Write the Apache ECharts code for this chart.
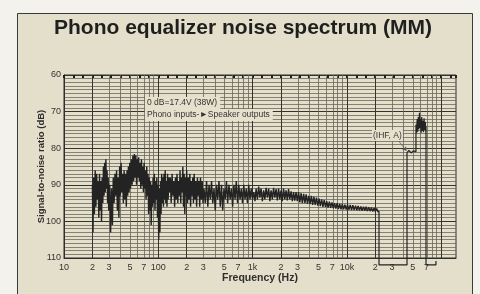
<!DOCTYPE html>
<html>
<head>
<meta charset="utf-8">
<script src="https://cdn.jsdelivr.net/npm/echarts@6/dist/echarts.min.js"></script>
<style>
html,body{margin:0;padding:0;background:#f3f2ec;}
#main{width:480px;height:294px;}
</style>
</head>
<body>
<div id="main"></div>
<script>
// frequency (Hz), S/N (dB)
var lowBand = [
  [20.0,90],[20.3,103],[20.6,88],[21.0,98],[21.4,86],[21.8,96],[22.2,87],[22.6,94],[23.0,89],[23.4,99],
  [23.8,87],[24.2,97],[24.6,89],[25.0,100],[25.4,88],[25.8,95],[26.2,85],[26.6,93],[27.0,84],[27.4,92],
  [27.8,83],[28.2,91],[28.6,86],[29.0,95],[29.4,88],[29.8,97],
  [30.5,90],[31.2,103],[31.9,91],[32.6,101],[33.3,88],[34.0,95],[34.7,87],[35.4,93],[36.1,86],[36.8,97],
  [37.5,88],[38.2,99],[38.9,85],[39.6,93],[40.3,84],[41.0,92],[41.8,87],[42.6,95],[43.4,86],[44.2,94],
  [45.0,87],[45.8,96],[46.6,86],[47.4,93],[48.2,85],[49.0,92],[49.8,84],
  [50.8,91],[51.8,83],[52.8,90],[53.8,82],[54.8,89],[55.8,81.6],[56.8,88],[57.8,82],[58.8,90],[59.8,83],
  [60.8,88],[61.9,82.5],[63.0,89],[64.1,84],[65.2,91],[66.3,83],[67.4,90],[68.5,85],[69.6,92],[70.7,84],
  [71.8,91],[73.0,86],[74.2,94],[75.4,85],[76.6,93],[77.8,87],[79.0,98],[80.2,88],
  [81.5,97],[82.8,89],[84.1,101],[85.4,90],[86.7,96],[88.0,88],[89.4,95],[90.8,87],[92.2,97],[93.6,89],
  [95.0,94],[96.5,88],[98.0,99],[99.5,90],[101,105],[102.5,91],[104,103],[105.5,89],[107,98],[108.6,87],
  [110.2,95],[111.8,88],[113.4,96],[115,87],[116.7,94],[118.4,86],[120.1,95],[121.8,89],[123.6,96],[125.4,87],
  [127.2,94],[129,88]
];
var midBand = [
  [131,92],[134,88],[137,95],[140,87],[143,93],[146,89],[149,96],[152,88],[155,94],[158,87],
  [161,95],[164,89],[167,93],[170,86],[173,95],[176,88],[179,92],[182,85],[185,96],[188,87],
  [191,98],[194,88],[197,93],[200,86],[204,95],[208,88],[212,94],[216,87],[220,96],[224,89],
  [228,93],[232,88],[236,95],[240,87],[245,94],[250,89],[255,96],[260,88],[265,93],[270,89],
  [275,96],[280,88],[286,94],[292,89],[298,95],
  [305,91],[315,95],[325,89],[335,96],[345,90],[356,94],[367,89],[378,95],[390,91],[402,97],
  [414,90],[427,94],[440,89],[454,96],[468,90],[482,97],[497,91],[512,94],[528,89],[544,95],
  [561,90],[578,94],[596,91],[614,96],[633,90],[652,94],[672,89],[693,95],[714,90],[736,94],
  [759,91],[782,95],[806,90],[831,94],[857,91],[883,95],[910,90],[938,94],[967,91],[997,94],
  [1030,92],[1060,94.5],[1090,91],[1125,94],[1160,90.5],[1195,93.5],[1230,91],[1270,94.5],[1310,91.5],[1350,94],
  [1390,90.8],[1435,93.5],[1480,91],[1525,94.5],[1570,91.5],[1620,94],[1670,90.8],[1720,93.5],[1775,91.2],[1830,94.3],
  [1885,91],[1945,94],[2005,91.5],[2065,94.5],[2130,91],[2195,94],[2265,91.5],[2335,94.3],[2405,91.2],[2480,94],
  [2560,91.8],[2640,94.5],[2720,92],[2800,94.3],[2890,92],[2980,94.5]
];
var highBand = [
  [3070,92],[3170,94.8],[3270,92.3],[3370,95],[3480,92.5],[3590,95],[3700,92.6],[3820,95.2],[3940,93],[4070,95.3],
  [4200,93],[4330,95.5],[4470,93.3],[4610,95.5],[4760,93.5],[4910,95.7],[5070,93.8],[5230,95.8],[5400,94],[5570,96],
  [5750,94.2],[5930,96],[6120,94.5],[6320,96.2],[6520,94.6],[6730,96.3],[6950,94.8],[7170,96.4],[7400,95],[7640,96.5],
  [7880,95],[8130,96.6],[8390,95.2],[8660,96.7],[8940,95.3],[9230,96.7],[9520,95.4],[9830,96.8],
  [10150,95.4],[10500,96.8],[10850,95.5],[11200,96.9],[11550,95.6],[11950,96.9],[12350,95.7],[12750,97],[13150,95.8],[13600,97],
  [14050,95.9],[14500,97.1],[15000,96],[15500,97.1],[16000,96],[16500,97.2],[17050,96.1],[17600,97.2],[18200,96.2],[18800,97.3],
  [19400,96.3],[20000,97.3],[20700,96.5],[21400,97.4],[21900,97.2]
];
// drop-off and the IHF-A bars drawn past 20 kHz
var ihfTrace = [
  [21900,97.2],[21900,111.9],[43400,111.9],[43400,81.2],[45500,80.6],[48000,81.3],[51000,80.7],[54000,81.0],
  [54000,73.5],[54800,75.8],[55600,72],[56400,75.5],[57200,71.5],[58000,74.8],[58800,70.3],[59600,74.5],
  [60400,72],[61300,75.8],[62200,71.5],[63100,75.2],[64000,72.5],[64900,75.6],[65800,71.8],[66800,75],
  [67800,72.8],[68800,75.8],[69000,74],[69000,111.9],[88000,111.9],[88000,110.8]
];

var labelFreqs = [10,20,30,50,70,100,200,300,500,700,1000,2000,3000,5000,7000,10000,20000,30000,50000,70000];
var labelText  = ['10','2','3','5','7','100','2','3','5','7','1k','2','3','5','7','10k','2','3','5','7'];
var multipliers = [1,2,3,4,5,6,7,8,9];
var decades = [10,100,1000,10000,100000];

var xMin = 1, xMax = 5.157;
var inkColor = '#232323';
var font = 'Liberation Sans';

function toLog(list){
    return list.map(function(p){ return [Math.log10(p[0]), p[1]]; });
}

// vertical paper grid: darker at 1 and 2 of each decade
var vLines = [];
decades.forEach(function(d){
    multipliers.forEach(function(m){
        var v = Math.log10(d*m);
        if (v <= xMin || v >= xMax) return;
        var dark = (m == 1 || m == 2);
        vLines.push({
            xAxis: v,
            lineStyle: {color: dark ? '#34342f' : '#66635a', width: dark ? 1 : 0.8, type: 'solid'}
        });
    });
});

var myChart = echarts.init(document.getElementById('main'));

var option = {
    animation: false,
    backgroundColor: '#f3f2ec',
    graphic: [
        {
            type: 'rect', z: -10,
            shape: {x: 17.5, y: 13.5, width: 455, height: 300},
            style: {fill: '#e4dfca', stroke: '#3a3a3a', lineWidth: 1}
        },
        {
            type: 'text', z: 10, x: 243, y: 18,
            style: {text: 'Phono equalizer noise spectrum (MM)', fill: '#1f1f1f',
                font: 'bold 21px "Liberation Sans"', textAlign: 'center', textVerticalAlign: 'top'}
        },
        {
            type: 'text', z: 10, x: 145, y: 97,
            style: {text: '0 dB=17.4V (38W)', fill: '#333', font: '8.5px "Liberation Sans"',
                backgroundColor: '#e6e1cd', padding: [1, 3, 2, 2]}
        },
        {
            type: 'text', z: 10, x: 145, y: 109,
            style: {text: 'Phono inputs-\u25BASpeaker outputs', fill: '#333', font: '8.5px "Liberation Sans"',
                backgroundColor: '#e6e1cd', padding: [1, 3, 2, 2]}
        },
        {
            type: 'text', z: 10, x: 372, y: 130,
            style: {text: '(IHF, A)', fill: '#333', font: '8.5px "Liberation Sans"',
                backgroundColor: '#e6e1cd', padding: [1, 1, 1, 1]}
        }
    ],
    grid: {
        left: 64, top: 75, width: 392, height: 183,
        show: true, borderColor: '#2e2e2e', borderWidth: 1,
        outerBoundsMode: 'none'
    },
    xAxis: [
        {
            type: 'value', min: xMin, max: xMax, position: 'bottom',
            name: 'Frequency (Hz)', nameLocation: 'middle', nameGap: 15, nameMoveOverlap: false,
            nameTextStyle: {fontFamily: font, fontSize: 10.5, fontWeight: 'bold', color: '#2e2e2e'},
            axisLine: {show: true, lineStyle: {color: '#2e2e2e'}},
            axisTick: {show: false},
            splitLine: {show: false},
            axisLabel: {
                customValues: labelFreqs.map(function(f){ return Math.log10(f); }),
                margin: 5, fontFamily: font, fontSize: 9, color: '#333',
                formatter: function(v){
                    for (var i = 0; i < labelFreqs.length; i++) {
                        if (Math.abs(Math.log10(labelFreqs[i]) - v) < 1e-6) return labelText[i];
                    }
                    return '';
                }
            }
        },
        {
            // chart paper marks along the top edge
            type: 'value', min: xMin, max: xMax, interval: 0.1, position: 'top',
            axisLine: {show: false},
            axisTick: {show: true, inside: true, length: 3, lineStyle: {color: '#1e1e1e', width: 2}},
            axisLabel: {show: false},
            splitLine: {show: false}
        }
    ],
    yAxis: {
        type: 'value', inverse: true, min: 60, max: 110, interval: 10,
        name: 'Signal-to-noise ratio (dB)', nameLocation: 'middle', nameGap: 18, nameMoveOverlap: false,
        nameTextStyle: {fontFamily: font, fontSize: 9.5, fontWeight: 'bold', color: '#2e2e2e'},
        axisLine: {show: true, lineStyle: {color: '#2e2e2e'}},
        axisTick: {show: false},
        axisLabel: {margin: 3, fontFamily: font, fontSize: 9, color: '#333'},
        splitLine: {show: true, lineStyle: {color: '#34342f', width: 1}},
        minorTick: {show: false, splitNumber: 10},
        minorSplitLine: {show: true, lineStyle: {color: '#6b685e', width: 0.8}}
    },
    series: [
        {
            type: 'scatter', data: [], silent: true,
            markLine: {silent: true, symbol: ['none', 'none'], label: {show: false}, data: vLines}
        },
        {
            type: 'line', showSymbol: false, clip: false, silent: true, z: 5,
            lineStyle: {color: inkColor, width: 1.4},
            data: toLog(lowBand.concat(midBand, highBand))
        },
        {
            type: 'line', showSymbol: false, clip: false, silent: true, z: 5,
            lineStyle: {color: inkColor, width: 1.2},
            data: toLog(ihfTrace),
            markLine: {
                silent: true, symbol: ['none', 'arrow'], symbolSize: 4,
                label: {show: false},
                lineStyle: {color: '#555', width: 0.7, type: 'solid'},
                data: [[{coord: [Math.log10(35000), 77.9]}, {coord: [Math.log10(42800), 80.7]}]]
            }
        }
    ]
};
myChart.setOption(option);
</script>
</body>
</html>
